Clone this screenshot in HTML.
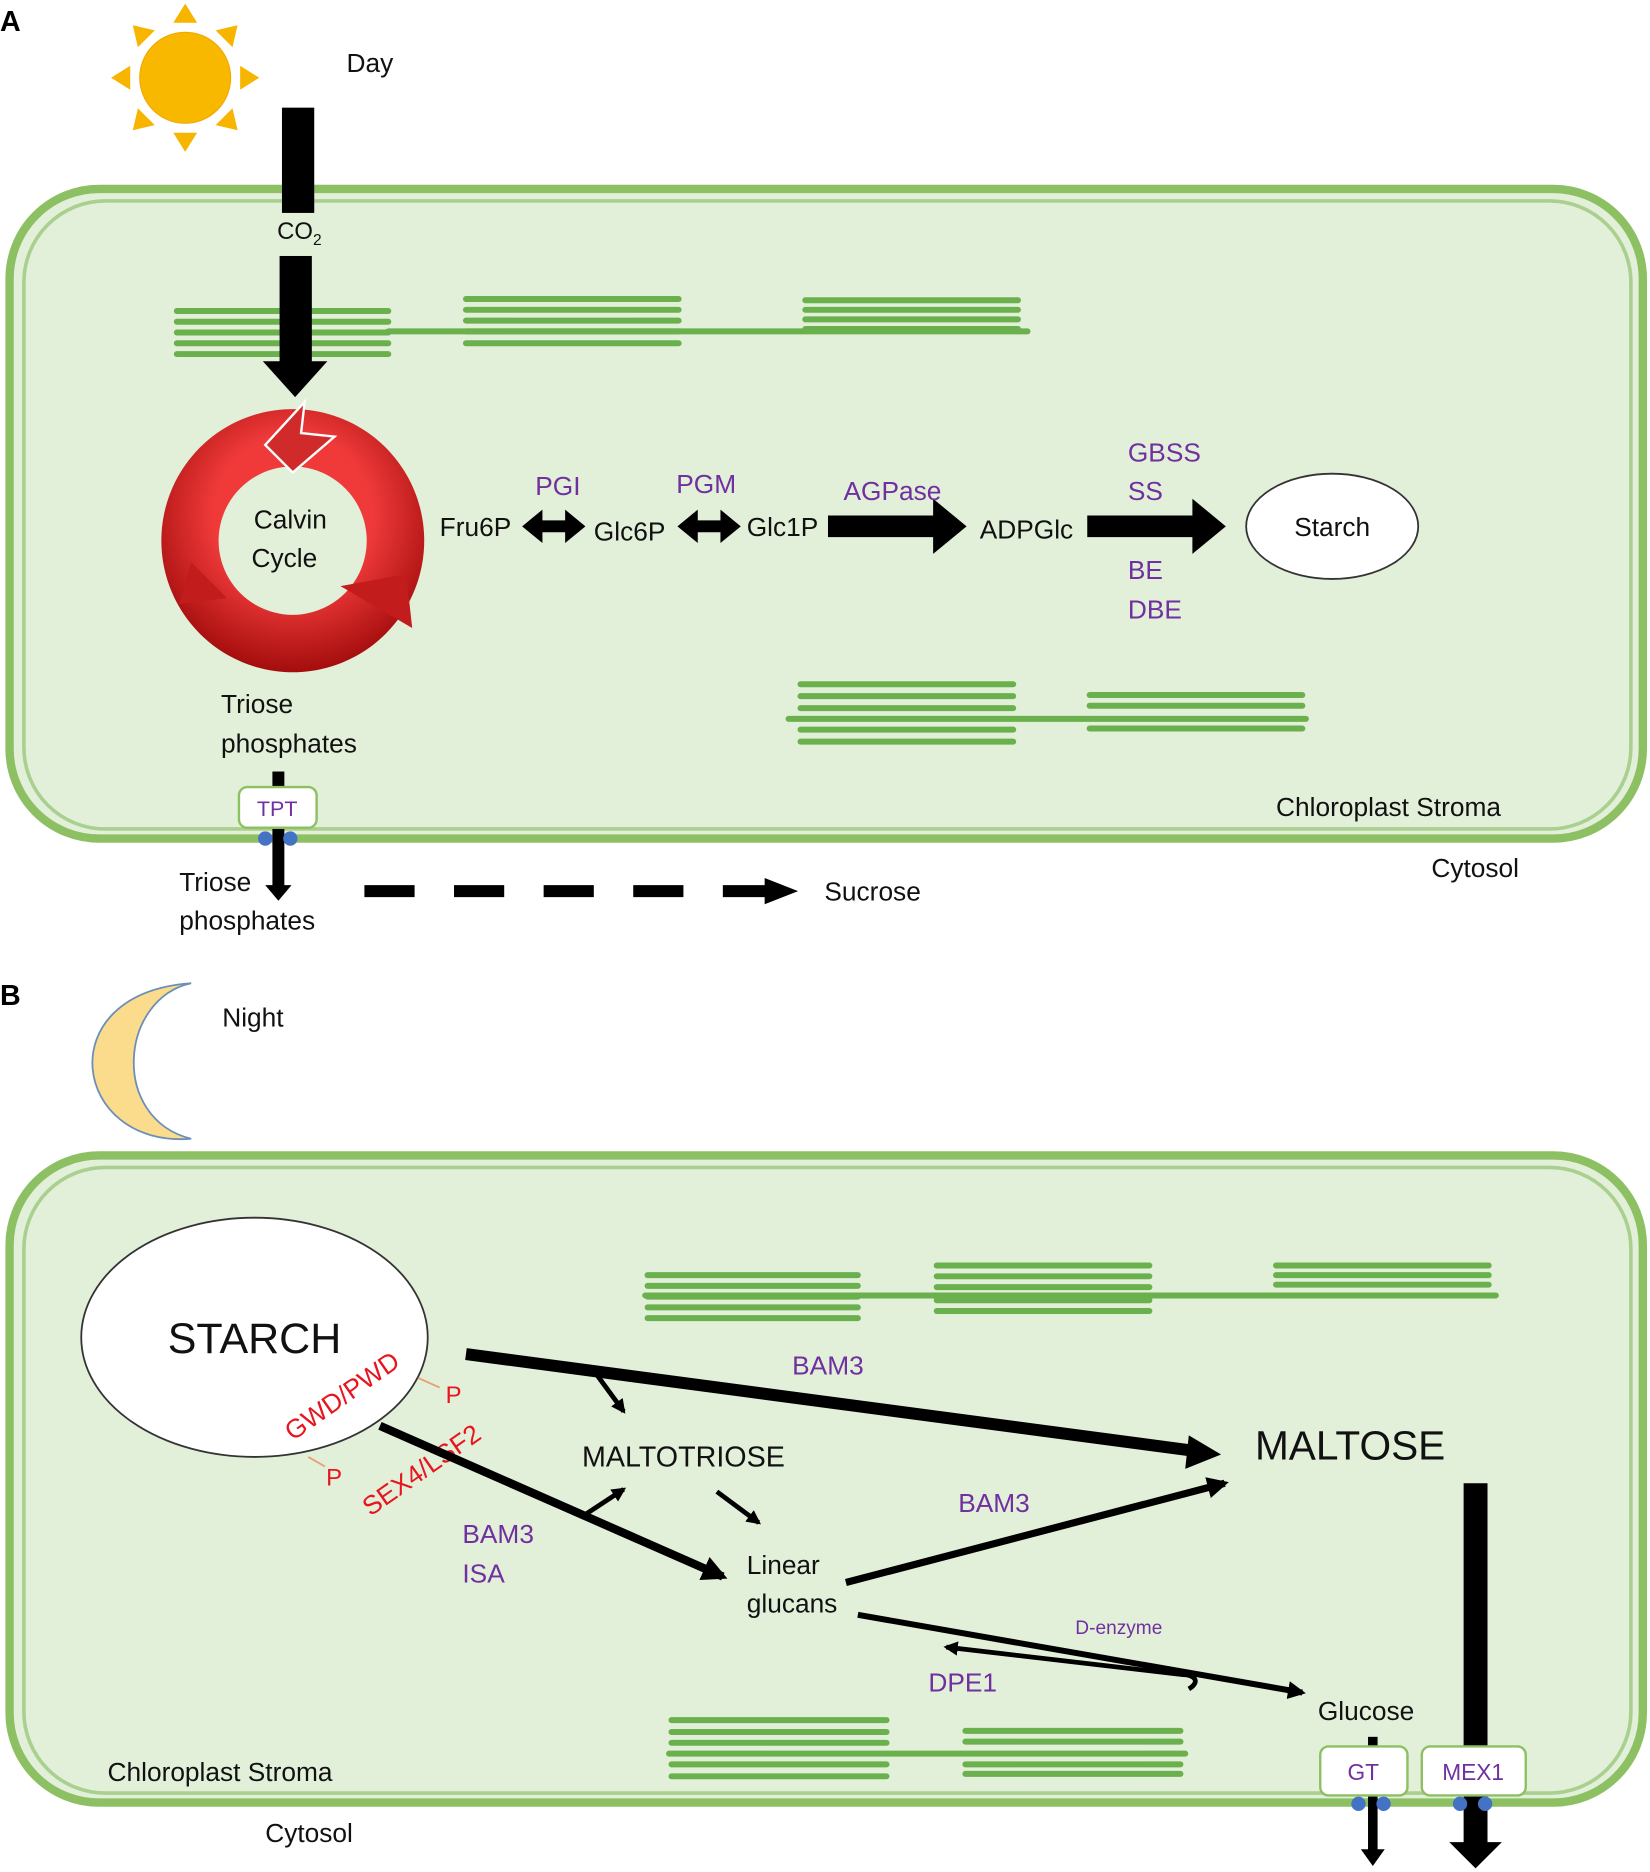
<!DOCTYPE html>
<html><head><meta charset="utf-8"><style>
html,body{margin:0;padding:0;background:#fff}
svg{display:block}
text{font-family:"Liberation Sans",sans-serif}
.k{fill:#111;font-size:22px}
.p{fill:#7030a0;font-size:22px}
.r{fill:#e8141e;font-size:22px}
</style></head><body>
<svg width="1650" height="1872" viewBox="0 0 1381 1565" preserveAspectRatio="none" xmlns="http://www.w3.org/2000/svg">
<defs>
<marker id="ah" viewBox="0 0 10 10" refX="8" refY="5" markerWidth="4" markerHeight="4" orient="auto-start-reverse"><path d="M0,0L10,5L0,10z" fill="#000"/></marker>
<marker id="ah2" viewBox="0 0 10 10" refX="8" refY="5" markerWidth="3" markerHeight="3" orient="auto-start-reverse"><path d="M0,0L10,5L0,10z" fill="#000"/></marker>
<radialGradient id="rg" cx="50%" cy="40%" r="60%"><stop offset="0.5" stop-color="#f03a3a"/><stop offset="1" stop-color="#a40d0d"/></radialGradient>
<g id="lines5" stroke="#6ab04c" stroke-width="5" stroke-linecap="round">
</g>
</defs>
<text x="0" y="26" style="font-size:24px;font-weight:bold" fill="#000">A</text>
<!-- sun -->
<g fill="#f7b500">
<circle cx="155" cy="65" r="38" fill="#f9b800" stroke="#f2a900"/>
<g transform="translate(155,65)">
<path d="M-10,-46L0,-62L10,-46z"/><path d="M-10,46L0,62L10,46z"/><path d="M-46,-10L-62,0L-46,10z"/><path d="M46,-10L62,0L46,10z"/>
<g transform="rotate(45)"><path d="M-10,-46L0,-62L10,-46z"/><path d="M-10,46L0,62L10,46z"/><path d="M-46,-10L-62,0L-46,10z"/><path d="M46,-10L62,0L46,10z"/></g>
</g></g>
<text x="290" y="60" class="k">Day</text>
<!-- chloroplast A -->
<rect x="8" y="158" width="1367" height="543" rx="75" fill="#e2efd9" stroke="#8cc063" stroke-width="7"/>
<rect x="20" y="168" width="1345" height="525" rx="68" fill="none" stroke="#a9d08e" stroke-width="3"/>
<!-- thylakoids A -->
<g stroke="#6ab04c" stroke-width="5" stroke-linecap="round">
<line x1="325" y1="277" x2="860" y2="277"/>
<line x1="148" y1="260" x2="325" y2="260"/><line x1="148" y1="269" x2="325" y2="269"/><line x1="148" y1="278" x2="325" y2="278"/><line x1="148" y1="287" x2="325" y2="287"/><line x1="148" y1="296" x2="325" y2="296"/>
<line x1="390" y1="250" x2="568" y2="250"/><line x1="390" y1="259" x2="568" y2="259"/><line x1="390" y1="268" x2="568" y2="268"/><line x1="390" y1="277" x2="568" y2="277"/><line x1="390" y1="287" x2="568" y2="287"/>
<line x1="674" y1="251" x2="852" y2="251"/><line x1="674" y1="259" x2="852" y2="259"/><line x1="674" y1="267" x2="852" y2="267"/><line x1="674" y1="275" x2="852" y2="275"/>
<line x1="660" y1="601" x2="1093" y2="601"/>
<line x1="670" y1="572" x2="848" y2="572"/><line x1="670" y1="582" x2="848" y2="582"/><line x1="670" y1="592" x2="848" y2="592"/><line x1="670" y1="610" x2="848" y2="610"/><line x1="670" y1="620" x2="848" y2="620"/>
<line x1="912" y1="581" x2="1090" y2="581"/><line x1="912" y1="590" x2="1090" y2="590"/><line x1="912" y1="609" x2="1090" y2="609"/>
</g>
<!-- CO2 arrow -->
<rect x="236" y="90" width="27" height="88" fill="#000"/>
<text x="232" y="200" class="k" style="font-size:20px">CO<tspan font-size="13" dy="5">2</tspan></text>
<rect x="234" y="214" width="27" height="90" fill="#000"/>
<path d="M220,302L274,302L247,332z" fill="#000"/>
<!-- Calvin cycle -->
<path fill-rule="evenodd" fill="url(#rg)" d="M245,342a110,110 0 1,0 0.1,0zM245,390a62,62 0 1,1 -0.1,0z"/>
<path d="M222,372L255,336L252,362L280,365L245,395z" fill="#d12a2a" stroke="#fff" stroke-width="2"/>
<path d="M160,470L190,500L150,505z" fill="#c21c1c"/>
<path d="M285,490L340,480L345,525z" fill="#c21c1c"/>
<text x="243" y="442" class="k" text-anchor="middle">Calvin</text>
<text x="238" y="474" class="k" text-anchor="middle">Cycle</text>
<!-- pathway -->
<text x="368" y="448" class="k">Fru6P</text>
<text x="497" y="452" class="k">Glc6P</text>
<text x="625" y="448" class="k">Glc1P</text>
<text x="820" y="450" class="k">ADPGlc</text>
<path d="M437,440l17,-14v9h19v-9l17,14l-17,14v-9h-19v9z" fill="#000"/>
<path d="M567,440l17,-14v9h19v-9l17,14l-17,14v-9h-19v9z" fill="#000"/>
<path d="M693,431h88v-14l28,23l-28,23v-14h-88z" fill="#000"/>
<path d="M910,431h88v-14l28,23l-28,23v-14h-88z" fill="#000"/>
<text x="448" y="414" class="p">PGI</text>
<text x="566" y="412" class="p">PGM</text>
<text x="706" y="418" class="p">AGPase</text>
<text x="944" y="386" class="p">GBSS</text>
<text x="944" y="418" class="p">SS</text>
<text x="944" y="484" class="p">BE</text>
<text x="944" y="517" class="p">DBE</text>
<ellipse cx="1115" cy="440" rx="72" ry="44" fill="#fff" stroke="#333" stroke-width="1.5"/>
<text x="1115" y="448" class="k" text-anchor="middle">Starch</text>
<text x="185" y="596" class="k">Triose</text>
<text x="185" y="629" class="k">phosphates</text>
<rect x="228" y="645" width="10" height="97" fill="#000"/>
<path d="M222,740L244,740L233,753z" fill="#000"/>
<rect x="200" y="658" width="65" height="34" rx="7" fill="#fff" stroke="#8cc063" stroke-width="2"/>
<text x="232" y="682" class="p" style="font-size:18px" text-anchor="middle">TPT</text>
<circle cx="222" cy="701" r="6" fill="#4472c4"/><circle cx="243" cy="701" r="6" fill="#4472c4"/>
<text x="1068" y="682" class="k">Chloroplast Stroma</text>
<text x="1198" y="733" class="k">Cytosol</text>
<text x="150" y="745" class="k">Triose</text>
<text x="150" y="777" class="k">phosphates</text>
<line x1="305" y1="745" x2="645" y2="745" stroke="#000" stroke-width="10" stroke-dasharray="42,33"/>
<path d="M640,734L668,745L640,756z" fill="#000"/>
<text x="690" y="753" class="k">Sucrose</text>

<!-- Panel B -->
<text x="0" y="840" style="font-size:24px;font-weight:bold" fill="#000">B</text>
<path d="M160,822C100,835 92,935 160,952C60,960 40,830 160,822z" fill="#fbdb8c" stroke="#6b8fb8" stroke-width="1.5"/>
<text x="186" y="858" class="k">Night</text>
<rect x="8" y="966" width="1367" height="541" rx="75" fill="#e2efd9" stroke="#8cc063" stroke-width="7"/>
<rect x="20" y="976" width="1345" height="523" rx="68" fill="none" stroke="#a9d08e" stroke-width="3"/>
<g stroke="#6ab04c" stroke-width="5" stroke-linecap="round">
<line x1="540" y1="1083" x2="1252" y2="1083"/>
<line x1="542" y1="1066" x2="718" y2="1066"/><line x1="542" y1="1075" x2="718" y2="1075"/><line x1="542" y1="1084" x2="718" y2="1084"/><line x1="542" y1="1093" x2="718" y2="1093"/><line x1="542" y1="1102" x2="718" y2="1102"/>
<line x1="784" y1="1058" x2="962" y2="1058"/><line x1="784" y1="1067" x2="962" y2="1067"/><line x1="784" y1="1076" x2="962" y2="1076"/><line x1="784" y1="1087" x2="962" y2="1087"/><line x1="784" y1="1096" x2="962" y2="1096"/>
<line x1="1068" y1="1058" x2="1246" y2="1058"/><line x1="1068" y1="1066" x2="1246" y2="1066"/><line x1="1068" y1="1074" x2="1246" y2="1074"/><line x1="1068" y1="1083" x2="1246" y2="1083"/>
<line x1="560" y1="1466" x2="992" y2="1466"/>
<line x1="562" y1="1438" x2="742" y2="1438"/><line x1="562" y1="1448" x2="742" y2="1448"/><line x1="562" y1="1457" x2="742" y2="1457"/><line x1="562" y1="1475" x2="742" y2="1475"/><line x1="562" y1="1485" x2="742" y2="1485"/>
<line x1="808" y1="1447" x2="988" y2="1447"/><line x1="808" y1="1456" x2="988" y2="1456"/><line x1="808" y1="1475" x2="988" y2="1475"/><line x1="808" y1="1483" x2="988" y2="1483"/>
</g>
<ellipse cx="213" cy="1118" rx="145" ry="100" fill="#fff" stroke="#333" stroke-width="1.5"/>
<text x="213" y="1131" class="k" style="font-size:36px" text-anchor="middle">STARCH</text>
<text transform="translate(245,1205) rotate(-35)" class="r">GWD/PWD</text>
<text transform="translate(310,1268) rotate(-35)" class="r">SEX4/LSF2</text>
<text x="373" y="1173" class="r" style="font-size:20px">P</text>
<text x="273" y="1242" class="r" style="font-size:20px">P</text>
<line x1="350" y1="1152" x2="368" y2="1160" stroke="#e8a070" stroke-width="1.5"/>
<line x1="258" y1="1218" x2="272" y2="1226" stroke="#e8a070" stroke-width="1.5"/>
<g stroke="#000" fill="none">
<line x1="390" y1="1132" x2="1000" y2="1213" stroke-width="10"/>
<line x1="318" y1="1192" x2="605" y2="1318" stroke-width="7" marker-end="url(#ah2)"/>
<line x1="708" y1="1323" x2="1025" y2="1240" stroke-width="6" marker-end="url(#ah2)"/>
<line x1="718" y1="1350" x2="1090" y2="1415" stroke-width="5" marker-end="url(#ah2)"/>
<line x1="500" y1="1150" x2="522" y2="1180" stroke-width="4" marker-end="url(#ah2)"/>
<line x1="490" y1="1266" x2="522" y2="1245" stroke-width="4" marker-end="url(#ah2)"/>
<line x1="600" y1="1247" x2="635" y2="1273" stroke-width="4" marker-end="url(#ah2)"/>
<path d="M995,1412C1005,1406 1000,1400 990,1400L792,1377" stroke-width="4" marker-end="url(#ah2)"/>
</g>
<path d="M995,1200L1022,1216L992,1228z" fill="#000"/>
<text x="572" y="1226" class="k" style="font-size:24px" text-anchor="middle">MALTOTRIOSE</text>
<text x="1130" y="1220" class="k" style="font-size:34px" text-anchor="middle">MALTOSE</text>
<text x="663" y="1149" class="p">BAM3</text>
<text x="802" y="1264" class="p">BAM3</text>
<text x="387" y="1290" class="p">BAM3</text>
<text x="387" y="1323" class="p">ISA</text>
<text x="625" y="1316" class="k">Linear</text>
<text x="625" y="1348" class="k">glucans</text>
<text x="900" y="1366" class="p" style="font-size:16px">D-enzyme</text>
<text x="777" y="1414" class="p">DPE1</text>
<text x="1103" y="1438" class="k">Glucose</text>
<rect x="1225" y="1240" width="20" height="305" fill="#000"/>
<path d="M1213,1540L1257,1540L1235,1562z" fill="#000"/>
<rect x="1145" y="1452" width="8" height="96" fill="#000"/>
<path d="M1139,1546L1159,1546L1149,1560z" fill="#000"/>
<rect x="1105" y="1460" width="73" height="41" rx="7" fill="#fff" stroke="#8cc063" stroke-width="2"/>
<text x="1141" y="1488" class="p" style="font-size:19px" text-anchor="middle">GT</text>
<rect x="1190" y="1460" width="87" height="41" rx="7" fill="#fff" stroke="#8cc063" stroke-width="2"/>
<text x="1233" y="1488" class="p" style="font-size:19px" text-anchor="middle">MEX1</text>
<circle cx="1137" cy="1508" r="6" fill="#4472c4"/><circle cx="1158" cy="1508" r="6" fill="#4472c4"/>
<circle cx="1222" cy="1508" r="6" fill="#4472c4"/><circle cx="1243" cy="1508" r="6" fill="#4472c4"/>
<text x="90" y="1489" class="k">Chloroplast Stroma</text>
<text x="222" y="1540" class="k">Cytosol</text>
</svg>
</body></html>
